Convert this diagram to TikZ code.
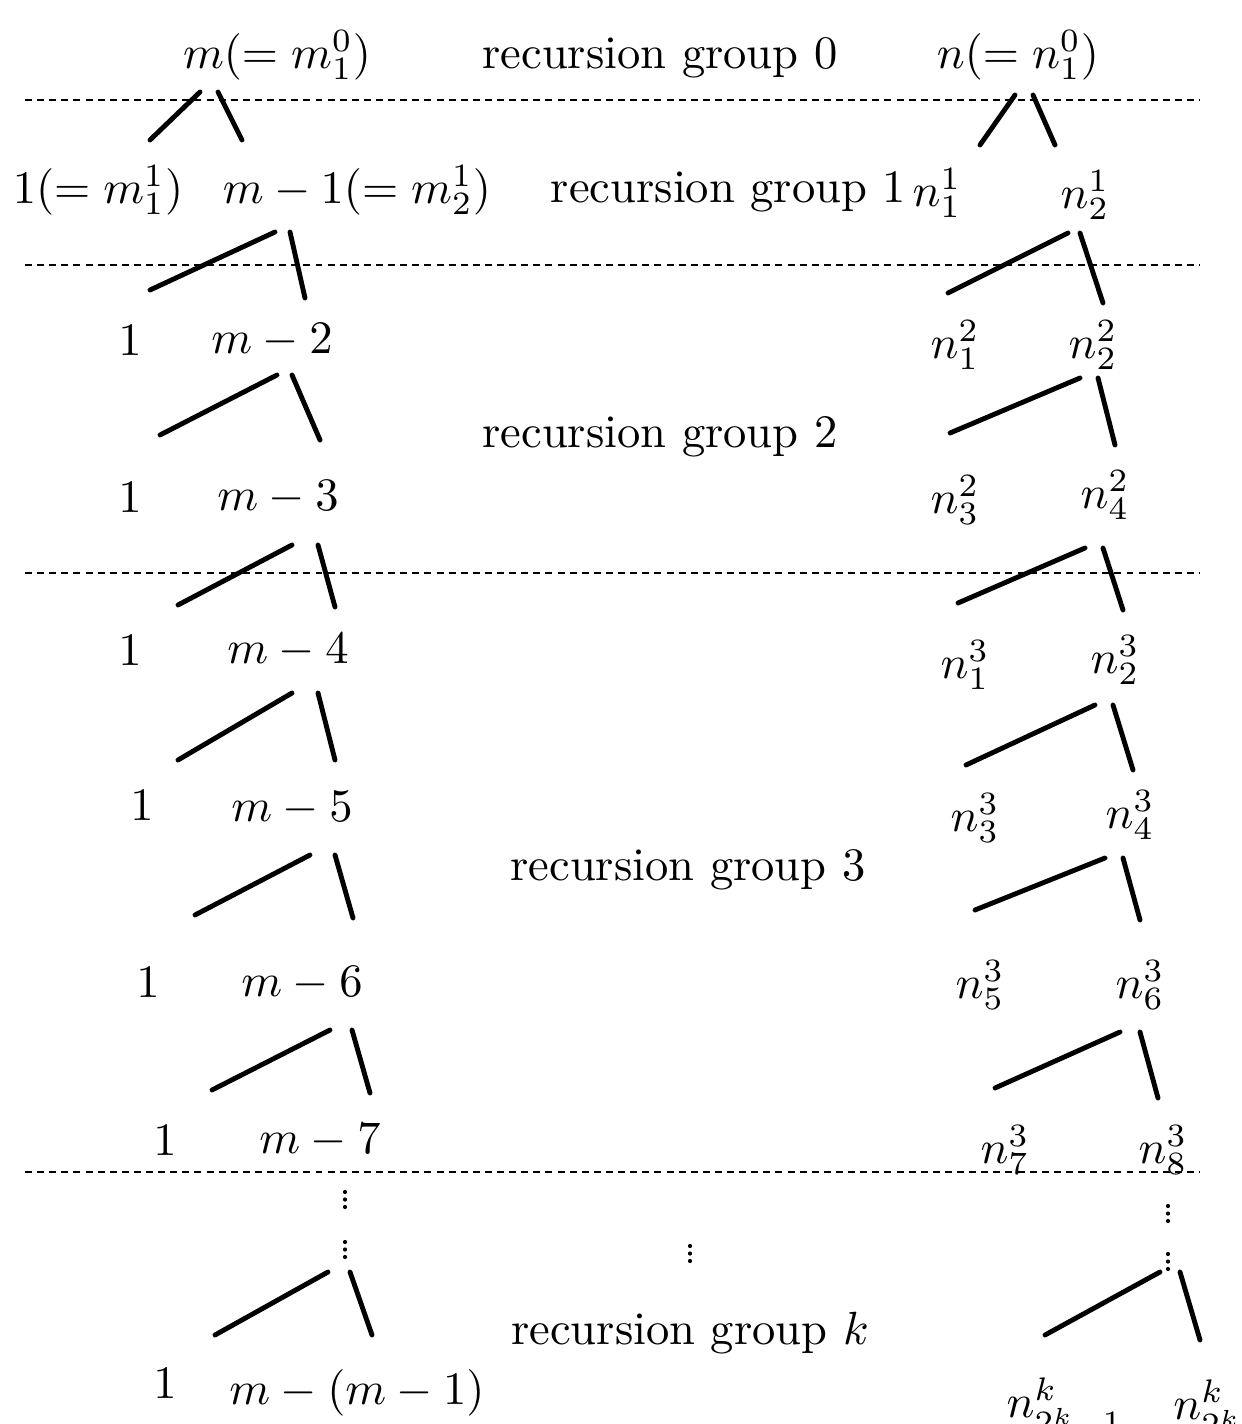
\documentclass[tikz,border=0pt]{standalone}
\usetikzlibrary{calc}
\begin{document}
\begin{tikzpicture}[x=0.2148pt, y=-0.2148pt,
  lbl/.style={inner sep=0pt, outer sep=0pt},
  branch/.style={line width=1.05pt, line cap=round},
  sep/.style={line width=0.5pt, dash pattern=on 1.5pt off 1.1pt},
  vdot/.style={fill=black, draw=none}]
\useasboundingbox (0,0) rectangle (1241,1424);

% ---------- separators ----------
\foreach \i/\y in {1/100, 2/265, 3/573, 4/1172}{
  \coordinate (sL\i) at (25,\y);
  \coordinate (sR\i) at (1200,\y);
  \draw[sep] (sL\i) -- (sR\i);
}

% ---------- group labels ----------
\node[lbl] (g0) at (660,58) {recursion group 0};
\node[lbl, anchor=east] (g1) at (906,192) {recursion group 1};
\node[lbl] (g2) at (660,437) {recursion group 2};
\node[lbl] (g3) at (688,870) {recursion group 3};
\node[lbl] (gk) at (690,1333) {recursion group $k$};

% ---------- left tree ----------
\node[lbl] (m0) at (277,55) {$m(=m^0_1)$};
\node[lbl] (a1) at (98,190) {$1(=m^1_1)$};
\node[lbl] (b1) at (357,190) {$m-1(=m^1_2)$};
\node[lbl] (a2) at (130,340) {$1$};
\node[lbl] (b2) at (272,340) {$m-2$};
\node[lbl] (a3) at (130,497) {$1$};
\node[lbl] (b3) at (278,497) {$m-3$};
\node[lbl] (a4) at (130,650) {$1$};
\node[lbl] (b4) at (288,650) {$m-4$};
\node[lbl] (a5) at (142,805) {$1$};
\node[lbl] (b5) at (292,808) {$m-5$};
\node[lbl] (a6) at (148,982) {$1$};
\node[lbl] (b6) at (302,983) {$m-6$};
\node[lbl] (a7) at (165,1140) {$1$};
\node[lbl] (b7) at (320,1140) {$m-7$};
\node[lbl] (ak) at (165,1383) {$1$};
\node[lbl] (bk) at (357,1393) {$m-(m-1)$};

% ---------- right tree ----------
\node[lbl] (n0) at (1018,55) {$n(=n^0_1)$};
\node[lbl] (c1) at (937,193) {$n^1_1$};
\node[lbl] (d1) at (1085,195) {$n^1_2$};
\node[lbl] (c2) at (955,345) {$n^2_1$};
\node[lbl] (d2) at (1093,345) {$n^2_2$};
\node[lbl] (c3) at (955,500) {$n^2_3$};
\node[lbl] (d3) at (1105,495) {$n^2_4$};
\node[lbl] (c4) at (965,665) {$n^3_1$};
\node[lbl] (d4) at (1115,660) {$n^3_2$};
\node[lbl] (c5) at (975,818) {$n^3_3$};
\node[lbl] (d5) at (1130,815) {$n^3_4$};
\node[lbl] (c6) at (980,985) {$n^3_5$};
\node[lbl] (d6) at (1140,985) {$n^3_6$};
\node[lbl] (c7) at (1005,1150) {$n^3_7$};
\node[lbl] (d7) at (1163,1150) {$n^3_8$};
\node[lbl] (ck) at (1065,1408) {$n^k_{2^k-1}$};
\node[lbl] (dk) at (1208,1408) {$n^k_{2^k}$};

% ---------- branches (free ends as coordinates) ----------
\foreach \n/\ax/\ay/\bx/\by/\cx/\cy/\dx/\dy in {
  L0/150/140/200/92/218/92/242/140,
  L1/150/290/275/232/290/232/305/298,
  L2/160/435/277/375/292/375/320/440,
  L3/178/605/292/545/318/545/335/607,
  L4/178/760/292/693/318/693/335/760,
  L5/195/915/310/855/335/855/353/918,
  L6/212/1090/330/1030/352/1030/370/1093,
  Lk/215/1335/328/1272/350/1272/372/1335,
  R0/980/145/1015/95/1033/95/1055/145,
  R1/948/293/1068/233/1080/233/1103/303,
  R2/950/433/1080/378/1098/378/1115/445,
  R3/958/603/1085/548/1103/548/1123/610,
  R4/966/765/1095/705/1113/705/1133/770,
  R5/975/910/1105/858/1123/858/1140/920,
  R6/995/1088/1120/1032/1140/1032/1158/1098,
  Rk/1045/1335/1160/1272/1180/1272/1200/1340}{
  \coordinate (\n a) at (\ax,\ay);
  \coordinate (\n b) at (\bx,\by);
  \coordinate (\n c) at (\cx,\cy);
  \coordinate (\n d) at (\dx,\dy);
  \draw[branch] (\n a) -- (\n b);
  \draw[branch] (\n c) -- (\n d);
}

% ---------- vertical dots ----------
\foreach \n/\x/\y in {v1/345/1192, v2/345/1242, v3/690/1246, v4/1168/1206, v5/1168/1254}{
  \coordinate (\n) at (\x,\y);
  \foreach \k in {0,1,2}{
    \fill[vdot] ($(\n)+(0,\k*7.5)$) circle (2.1);
  }
}
\end{tikzpicture}
\end{document}
